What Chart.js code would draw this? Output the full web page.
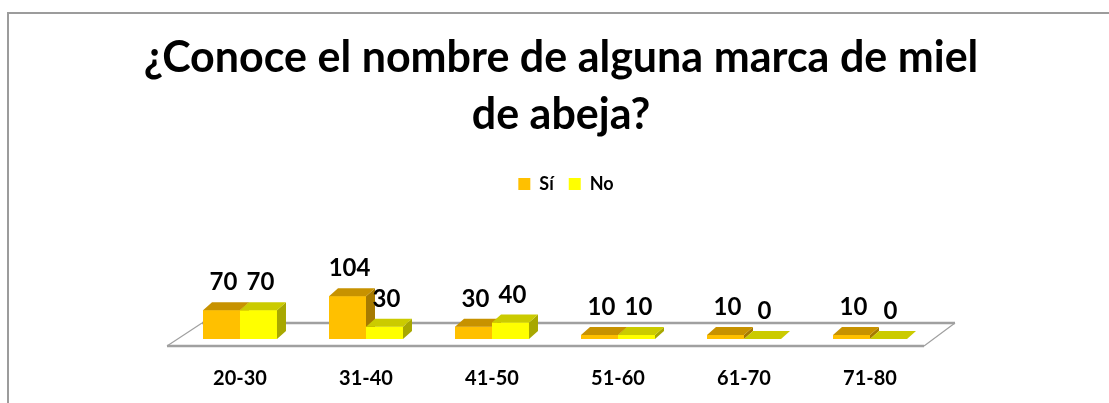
<!DOCTYPE html>
<html>
<head>
<meta charset="utf-8">
<script src="https://cdn.jsdelivr.net/npm/chart.js@4/dist/chart.umd.min.js"></script>
<style>
html,body{margin:0;padding:0;background:#fff;overflow:hidden;}
#wrap{position:absolute;left:0;top:0;width:1109px;height:403px;}
</style>
</head>
<body>
<div id="wrap"><canvas id="c" width="1109" height="403"></canvas></div>
<script>
const categories = ['20-30', '31-40', '41-50', '51-60', '61-70', '71-80'];
const seriesNames = ['Sí', 'No'];
const valuesSi = [70, 104, 30, 10, 10, 10];
const valuesNo = [70, 30, 40, 10, 0, 0];

const faceColors = [
  { front: '#FFC000', top: '#C79200', side: '#A67A00' },
  { front: '#FFFF00', top: '#CBCB00', side: '#A8A800' }
];
const DX = 9, DY = 8;

const frame = {
  id: 'frame',
  beforeDraw(chart) {
    const ctx = chart.ctx;
    ctx.save();
    ctx.strokeStyle = '#9c9c9c';
    ctx.lineWidth = 2;
    ctx.beginPath();
    ctx.moveTo(8, 403);
    ctx.lineTo(8, 13);
    ctx.lineTo(1109, 13);
    ctx.stroke();
    ctx.restore();
  },
  afterLayout(chart) {
    const t = chart.titleBlock;
    if (t) { t.left = 561 - 480; t.right = 561 + 480; }
    const l = chart.legend;
    if (l) { l.left += 11; l.right += 11; }
  },
  beforeDatasetsDraw(chart) {
    const ctx = chart.ctx;
    const a = chart.chartArea;
    const yb = chart.scales.y.getPixelForValue(0);
    const fy = yb + 7, by = yb - 16;
    const fl = a.left - 10, fr = a.right - 9;
    const bl = a.left + 25, br = a.right + 22;
    ctx.save();
    ctx.fillStyle = '#ffffff';
    ctx.beginPath();
    ctx.moveTo(fl, fy); ctx.lineTo(fr, fy); ctx.lineTo(br, by); ctx.lineTo(bl, by); ctx.closePath();
    ctx.fill();
    ctx.strokeStyle = '#a0a0a0';
    ctx.lineWidth = 1.2;
    ctx.beginPath();
    ctx.moveTo(fl, fy); ctx.lineTo(bl, by);
    ctx.moveTo(fr, fy); ctx.lineTo(br, by);
    ctx.stroke();
    ctx.lineWidth = 2.5;
    ctx.beginPath();
    ctx.moveTo(fl, fy); ctx.lineTo(fr, fy);
    ctx.moveTo(bl, by); ctx.lineTo(br, by);
    ctx.stroke();
    ctx.restore();
  },
  afterDatasetsDraw(chart) {
    const ctx = chart.ctx;
    const metas = [chart.getDatasetMeta(0), chart.getDatasetMeta(1)];
    ctx.save();
    function poly(pts, color) {
      ctx.fillStyle = color;
      ctx.beginPath();
      ctx.moveTo(pts[0][0], pts[0][1]);
      for (let k = 1; k < pts.length; k++) ctx.lineTo(pts[k][0], pts[k][1]);
      ctx.closePath();
      ctx.fill();
    }
    for (let i = 0; i < categories.length; i++) {
      metas.forEach((m, d) => {
        const p = m.data[i].getProps(['x', 'y', 'base', 'width'], true);
        const x0 = p.x - p.width / 2, x1 = p.x + p.width / 2;
        const top = Math.min(p.y, p.base), bot = Math.max(p.y, p.base);
        const c = faceColors[d];
        if (bot - top > 0) poly([[x0, top], [x1, top], [x1, bot], [x0, bot]], c.front);
        poly([[x1, top], [x1 + DX, top - DY], [x1 + DX, bot - DY], [x1, bot]], c.side);
        poly([[x0, top], [x1, top], [x1 + DX, top - DY], [x0 + DX, top - DY]], c.top);
      });
    }
    ctx.fillStyle = '#000';
    ctx.font = 'bold 24px Lato';
    ctx.textAlign = 'center';
    ctx.textBaseline = 'alphabetic';
    metas.forEach((m, d) => {
      const vals = chart.data.datasets[d].data;
      m.data.forEach((el, i) => {
        const p = el.getProps(['x', 'y'], true);
        ctx.fillText(String(vals[i]), p.x + 2, p.y - 20);
      });
    });
    ctx.restore();
  }
};

new Chart(document.getElementById('c'), {
  type: 'bar',
  data: {
    labels: categories,
    datasets: [
      { label: seriesNames[0], data: valuesSi, backgroundColor: faceColors[0].front, borderWidth: 0 },
      { label: seriesNames[1], data: valuesNo, backgroundColor: faceColors[1].front, borderWidth: 0 }
    ]
  },
  options: {
    responsive: false,
    animation: false,
    devicePixelRatio: 1,
    layout: { padding: { left: 177, right: 176, top: 0, bottom: 13 } },
    datasets: { bar: { barPercentage: 1.0, categoryPercentage: 0.587 } },
    scales: {
      x: {
        afterFit(scale) { scale.height = 51; },
        grid: { display: false },
        border: { display: false },
        ticks: { color: '#000', font: { family: 'Lato', size: 20, weight: 'bold' }, padding: 20 }
      },
      y: { display: false, min: 0, max: 330 }
    },
    plugins: {
      title: {
        display: true,
        text: ['¿Conoce el nombre de alguna marca de miel', 'de abeja?'],
        color: '#000',
        font: { family: 'Lato', size: 43, weight: 'bold', lineHeight: 1.3256 },
        padding: { top: 30, bottom: 16 }
      },
      legend: {
        display: true,
        position: 'top',
        labels: {
          color: '#000',
          boxWidth: 12,
          boxHeight: 12,
          padding: 15,
          font: { family: 'Lato', size: 18, weight: 'bold' }
        }
      },
      tooltip: { enabled: false }
    }
  },
  plugins: [frame]
});
</script>
</body>
</html>
